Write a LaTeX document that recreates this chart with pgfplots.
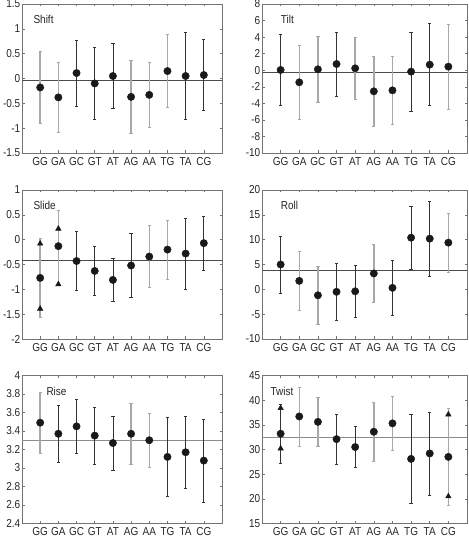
\documentclass[border=0pt]{standalone}
\usepackage{fontspec}
\setmainfont{Liberation Sans}[FakeStretch=0.87]
\usepackage{pgfplots}
\usepackage{pgfplotstable}
\pgfplotsset{compat=1.18}

\definecolor{dk}{gray}{0.2}
\definecolor{lt}{gray}{0.66}
\definecolor{fr}{gray}{0.45}

\tikzset{plabel/.style={anchor=west, font=\fontsize{11.5bp}{13bp}\selectfont, text=black!85}}

\pgfplotsset{
  panel/.style={
    scale only axis, height=149bp,
    xmin=0, xmax=11,
    xtick={1,2,3,4,5,6,7,8,9,10},
    xticklabels={GG,GA,GC,GT,AT,AG,AA,TG,TA,CG},
    tick align=inside, major tick length=2.5bp,
    axis line style={fr, line width=0.7pt},
    every tick/.style={fr, line width=0.5pt},
    tick label style={font=\fontsize{11.5bp}{13bp}\selectfont, text=black!85},
    xticklabel style={inner sep=1bp, yshift=-3bp},
    yticklabel style={inner sep=1bp, xshift=-0.5bp},
    /pgf/number format/assume math mode=true,
    /pgf/number format/fixed,
    /pgf/number format/precision=1,
    clip=false, unbounded coords=discard,
  },
  ebar/.style n args={2}{mark=none, color=#1,
    error bars/.cd, y dir=both, y explicit,
    error mark=-,
    error bar style={#1, line width=#2},
    error mark options={rotate=90, #1, mark size=1.6bp, line width=0.6pt}},
  lbar/.style={only marks, ebar={lt}{1.4pt}},
  dbar/.style={only marks, ebar={dk}{0.75pt}},
  dot/.style={only marks, mark=*, mark size=3.7bp, mark options={fill=black!90, draw=black!90}},
  tri/.style={only marks, mark=triangle*, mark size=3.2bp, mark options={fill=black!90, draw=black!90}},
  mline/.style={black!70, line width=0.7pt},
  /pgfplots/table/lightx/.style={x expr={\thisrow{dk}<0.5 ? \thisrow{x} : nan}, y=y, y error=e},
  /pgfplots/table/darkx/.style={x expr={\thisrow{dk}>0.5 ? \thisrow{x} : nan}, y=y, y error=e},
}

% columns: x  mean  sd  dark(1)/light(0)
\pgfplotstableread{
x y e dk
1 -0.18 0.73 0
2 -0.38 0.71 0
3 0.11 0.66 1
4 -0.10 0.72 1
5 0.05 0.66 1
6 -0.37 0.74 0
7 -0.33 0.65 0
8 0.15 0.73 0
9 0.05 0.88 1
10 0.07 0.72 1
}\shift

\pgfplotstableread{
x y e dk
1 0.03 4.30 1
2 -1.46 4.50 0
3 0.11 4.00 0
4 0.75 3.85 1
5 0.23 3.75 0
6 -2.55 4.20 0
7 -2.43 4.10 0
8 -0.17 4.76 1
9 0.67 4.95 1
10 0.43 5.10 0
}\tilt

\pgfplotstableread{
x y e dk
1 -0.77 0.80 0
2 -0.13 0.72 0
3 -0.43 0.59 1
4 -0.63 0.50 1
5 -0.81 0.43 1
6 -0.52 0.65 1
7 -0.34 0.62 0
8 -0.20 0.60 0
9 -0.28 0.71 1
10 -0.07 0.55 1
}\slide

\pgfplotstableread{
x y e dk
1 5.0 5.7 1
2 1.7 5.95 0
3 -1.2 5.8 0
4 -0.5 5.75 1
5 -0.4 5.15 1
6 3.2 5.9 0
7 0.3 5.6 1
8 10.4 6.4 1
9 10.2 7.5 1
10 9.4 6.0 0
}\roll

\pgfplotstableread{
x y e dk
1 3.49 0.33 0
2 3.37 0.31 1
3 3.45 0.29 1
4 3.35 0.31 1
5 3.27 0.29 1
6 3.37 0.33 0
7 3.30 0.29 0
8 3.12 0.43 1
9 3.17 0.385 1
10 3.08 0.45 1
}\rise

\pgfplotstableread{
x y e dk
1 33.2 6.0 1
2 36.7 6.0 0
3 35.6 5.0 0
4 32.1 5.1 1
5 30.5 4.2 1
6 33.6 6.0 0
7 35.3 5.5 0
8 28.1 9.0 1
9 29.2 8.4 1
10 28.5 9.8 0
}\twist

\begin{document}
\begin{tikzpicture}
\useasboundingbox (0,0) rectangle (469bp,538bp);

% ---------- Shift ----------
\begin{axis}[panel, width=200bp, at={(22bp,385bp)}, anchor=south west,
  ymin=-1.5, ymax=1.5, ytick={-1.5,-1,...,1.5}]
  \addplot[mline] coordinates {(0,-0.03) (11,-0.03)};
  \addplot[lbar] table[lightx] {\shift};
  \addplot[dbar] table[darkx] {\shift};
  \addplot[dot] table[x=x, y=y] {\shift};
  \node[plabel] at (rel axis cs:0.04,0.9) {Shift};
\end{axis}

% ---------- Tilt ----------
\begin{axis}[panel, width=205bp, at={(262bp,385bp)}, anchor=south west,
  ymin=-10, ymax=8, ytick={-10,-8,...,8}]
  \addplot[mline] coordinates {(0,-0.21) (11,-0.21)};
  \addplot[lbar] table[lightx] {\tilt};
  \addplot[dbar] table[darkx] {\tilt};
  \addplot[dot] table[x=x, y=y] {\tilt};
  \node[plabel] at (rel axis cs:0.075,0.9) {Tilt};
\end{axis}

% ---------- Slide ----------
\begin{axis}[panel, width=200bp, at={(22bp,199bp)}, anchor=south west,
  ymin=-2, ymax=1, ytick={-2,-1.5,...,1}]
  \addplot[mline] coordinates {(0,-0.41) (11,-0.41)};
  \addplot[lbar] table[lightx] {\slide};
  \addplot[dbar] table[darkx] {\slide};
  \addplot[dot] table[x=x, y=y] {\slide};
  \addplot[tri] coordinates {(1,-0.08) (1,-1.39) (2,0.22) (2,-0.90)};
  \node[plabel] at (rel axis cs:0.04,0.9) {Slide};
\end{axis}

% ---------- Roll ----------
\begin{axis}[panel, width=205bp, at={(262bp,199bp)}, anchor=south west,
  ymin=-10, ymax=20, ytick={-10,-5,...,20}]
  \addplot[mline] coordinates {(0,3.85) (11,3.85)};
  \addplot[lbar] table[lightx] {\roll};
  \addplot[dbar] table[darkx] {\roll};
  \addplot[dot] table[x=x, y=y] {\roll};
  \node[plabel] at (rel axis cs:0.075,0.9) {Roll};
\end{axis}

% ---------- Rise ----------
\begin{axis}[panel, width=200bp, at={(22bp,14.5bp)}, anchor=south west,
  height=148bp,
  ymin=2.4, ymax=4, ytick={2.4,2.6,...,4.01}]
  \addplot[black!45, line width=1.1pt] coordinates {(0,3.30) (11,3.30)};
  \addplot[lbar] table[lightx] {\rise};
  \addplot[dbar] table[darkx] {\rise};
  \addplot[dot] table[x=x, y=y] {\rise};
  \node[plabel] at (rel axis cs:0.105,0.89) {Rise};
\end{axis}

% ---------- Twist ----------
\begin{axis}[panel, width=205bp, at={(262bp,14.5bp)}, anchor=south west,
  height=148bp,
  ymin=15, ymax=45, ytick={15,20,...,45}]
  \addplot[black!45, line width=1.1pt] coordinates {(0,32.5) (11,32.5)};
  \addplot[lbar] table[lightx] {\twist};
  \addplot[dbar] table[darkx] {\twist};
  \addplot[dot] table[x=x, y=y] {\twist};
  \addplot[tri] coordinates {(1,38.4) (1,30.2) (10,37.1) (10,20.5)};
  \node[plabel] at (rel axis cs:0.025,0.89) {Twist};
\end{axis}
\end{tikzpicture}
\end{document}
